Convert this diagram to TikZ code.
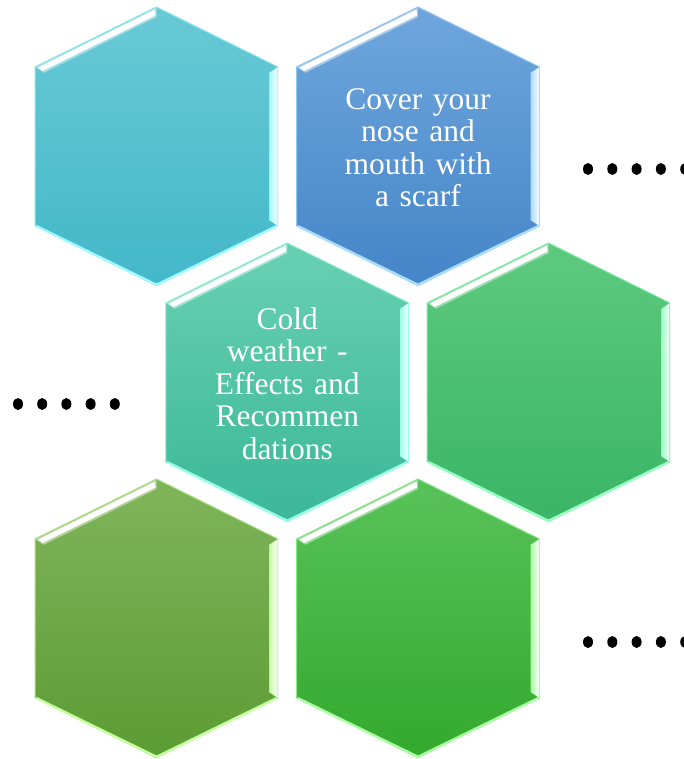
\documentclass[tikz,border=0pt]{standalone}
\usepackage{fontspec}
\setmainfont{Liberation Serif}
\definecolor{cAt}{HTML}{68C9D5}\definecolor{cAb}{HTML}{43B8C9}\definecolor{cAl}{HTML}{A0FAFF}
\definecolor{cBt}{HTML}{6EA6DC}\definecolor{cBb}{HTML}{4585C8}\definecolor{cBl}{HTML}{A8DCFF}
\definecolor{cCt}{HTML}{68D0B2}\definecolor{cCb}{HTML}{3BB898}\definecolor{cCl}{HTML}{98FFE6}
\definecolor{cDt}{HTML}{5DC97F}\definecolor{cDb}{HTML}{3AB565}\definecolor{cDl}{HTML}{98FFC4}
\definecolor{cEt}{HTML}{80B45A}\definecolor{cEb}{HTML}{5C9C34}\definecolor{cEl}{HTML}{C4FFA0}
\definecolor{cFt}{HTML}{58C25A}\definecolor{cFb}{HTML}{34A92E}\definecolor{cFl}{HTML}{A8FFA0}
\newcommand{\hexcell}[5]{%
\begin{scope}[shift={(#1,#2)}]
 \shade[top color=#3, bottom color=#4] (0,-139.5) -- (121.5,-79.5) -- (121.5,79.5) -- (0,139.5) -- (-121.5,79.5) -- (-121.5,-79.5) -- cycle;
 \fill[white!40!#3] (-121.5,-79.5) -- (0,-139.5) -- (0,-129.2) -- (-112.5,-73.6) -- cycle;
 \fill[white] (-118.5,-79) -- (-1.5,-137) -- (-1,-131) -- (-114,-75.5) -- cycle;
 \shade[left color=#5, right color=white] (112.5,-73.6) -- (121.5,-79.5) -- (121.5,79.5) -- (112.5,73.6) -- cycle;
 \shade[top color=#3, bottom color=#4] (0,-129.2) -- (112.5,-73.6) -- (112.5,73.6) -- (0,129.2) -- (-112.5,73.6) -- (-112.5,-73.6) -- cycle;
 \draw[#5!60!#3, line width=1pt, line join=miter] (0,-139.5) -- (121.5,-79.5) (-121.5,79.5) -- (-121.5,-79.5) -- (0,-139.5);
 \draw[#5, line width=2.4pt, line join=miter] (-120.3,79.5) -- (0,138.3) -- (120.3,79.5);
 \draw[#5, line width=1pt] (121,-79.5) -- (121,79.5);
\end{scope}}
\tikzset{hextext/.style={text=white, align=center, text width=170pt, font=\fontsize{31.5}{32.5}\selectfont, inner sep=0pt},
 dot/.style={fill=black}}
\begin{document}
\begin{tikzpicture}[x=1pt, y=-1pt]
\useasboundingbox (0,0) rectangle (684,759);
\hexcell{156.5}{146.5}{cAt}{cAb}{cAl}
\hexcell{418}{146.5}{cBt}{cBb}{cBl}
\hexcell{287.25}{382.5}{cCt}{cCb}{cCl}
\hexcell{548.5}{382.5}{cDt}{cDb}{cDl}
\hexcell{156.5}{618.5}{cEt}{cEb}{cEl}
\hexcell{418}{618.5}{cFt}{cFb}{cFl}
\node[hextext] (t2) at (418,147.5) {Cover your\\nose and\\mouth with\\a scarf};
\node[hextext] (t3) at (287.25,383.5) {Cold\\weather -\\Effects and\\Recommen\\dations};
\foreach \x in {588,612.3,636.6,660.9,685.2} \fill[dot] (\x,169) ellipse [x radius=5, y radius=6];
\foreach \x in {18,42.2,66.4,90.6,114.8} \fill[dot] (\x,404) ellipse [x radius=5, y radius=6];
\foreach \x in {588,612.3,636.6,660.9,685.2} \fill[dot] (\x,642) ellipse [x radius=5, y radius=6];
\end{tikzpicture}
\end{document}
